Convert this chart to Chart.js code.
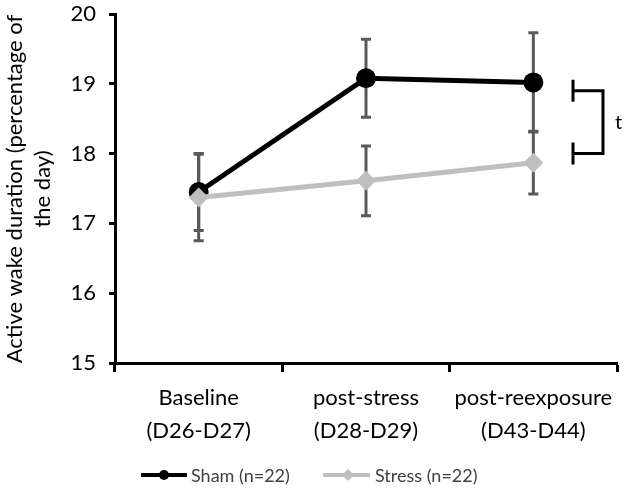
<!DOCTYPE html>
<html>
<head>
<meta charset="utf-8">
<script src="https://cdn.jsdelivr.net/npm/chart.js@4"></script>
<style>
html,body{margin:0;padding:0;background:#fff;}
#wrap{width:630px;height:490px;position:relative;}
</style>
</head>
<body>
<div id="wrap"><canvas id="c" width="630" height="490"></canvas></div>
<script>
const categories = [["Baseline","(D26-D27)"],["post-stress","(D28-D29)"],["post-reexposure","(D43-D44)"]];
const shamValues = [17.45, 19.08, 19.02];
const shamErrors = [0.55, 0.56, 0.71];
const stressValues = [17.37, 17.61, 17.87];
const stressErrors = [0.62, 0.5, 0.45];
const yTicks = [15, 16, 17, 18, 19, 20];
const seriesNames = ["Sham (n=22)", "Stress (n=22)"];
const yTitle = ["Active wake duration (percentage of", "the day)"];
const bracketRange = [18.0, 18.9];
const bracketLabel = "t";

const FONT = "Lato, 'Open Sans', sans-serif";
const ERR_COLOR = "#595959";
const SHAM_COLOR = "#000000";
const STRESS_COLOR = "#BFBFBF";

const errorPlugin = {
  id: 'errorbars',
  beforeDatasetsDraw(chart) {
    const ctx = chart.ctx, x = chart.scales.x, y = chart.scales.y;
    ctx.save();
    ctx.strokeStyle = ERR_COLOR;
    ctx.lineWidth = 3;
    const draw = (vals, errs) => {
      vals.forEach((v, i) => {
        const px = x.getPixelForValue(i);
        const top = y.getPixelForValue(v + errs[i]);
        const bot = y.getPixelForValue(v - errs[i]);
        ctx.beginPath();
        ctx.moveTo(px, top); ctx.lineTo(px, bot);
        ctx.moveTo(px - 5, top); ctx.lineTo(px + 5, top);
        ctx.moveTo(px - 5, bot); ctx.lineTo(px + 5, bot);
        ctx.stroke();
      });
    };
    draw(shamValues, shamErrors);
    draw(stressValues, stressErrors);
    ctx.restore();
  }
};

const decorPlugin = {
  id: 'decor',
  afterDraw(chart) {
    const ctx = chart.ctx, y = chart.scales.y;
    ctx.save();
    // bracket
    const yTop = y.getPixelForValue(bracketRange[1]);
    const yBot = y.getPixelForValue(bracketRange[0]);
    ctx.strokeStyle = '#000'; ctx.lineWidth = 3;
    ctx.beginPath();
    ctx.moveTo(573, yTop); ctx.lineTo(603, yTop); ctx.lineTo(603, yBot); ctx.lineTo(573, yBot);
    ctx.moveTo(573, yTop - 11); ctx.lineTo(573, yTop + 11);
    ctx.moveTo(573, yBot - 11); ctx.lineTo(573, yBot + 11);
    ctx.stroke();
    ctx.fillStyle = '#000';
    ctx.font = "20px " + FONT;
    ctx.textAlign = 'left'; ctx.textBaseline = 'middle';
    ctx.fillText(bracketLabel, 615, (yTop + yBot) / 2);
    // y title
    ctx.save();
    ctx.rotate(-Math.PI / 2);
    ctx.font = "22px " + FONT;
    ctx.fillStyle = '#000';
    ctx.textAlign = 'center'; ctx.textBaseline = 'middle';
    const cy = 189;
    ctx.fillText(yTitle[0], -cy, 15);
    ctx.fillText(yTitle[1], -cy, 43);
    ctx.restore();
    // legend
    const ly = 475;
    ctx.lineWidth = 4;
    ctx.strokeStyle = SHAM_COLOR;
    ctx.beginPath(); ctx.moveTo(141, ly); ctx.lineTo(187, ly); ctx.stroke();
    ctx.fillStyle = SHAM_COLOR;
    ctx.beginPath(); ctx.arc(164, ly, 5, 0, Math.PI * 2); ctx.fill();
    ctx.strokeStyle = STRESS_COLOR;
    ctx.beginPath(); ctx.moveTo(323, ly); ctx.lineTo(370, ly); ctx.stroke();
    ctx.fillStyle = STRESS_COLOR;
    ctx.beginPath();
    ctx.moveTo(348 - 6, ly); ctx.lineTo(348, ly - 6); ctx.lineTo(348 + 6, ly); ctx.lineTo(348, ly + 6);
    ctx.closePath(); ctx.fill();
    ctx.fillStyle = '#404040';
    ctx.font = "18px " + FONT;
    ctx.textAlign = 'left'; ctx.textBaseline = 'middle';
    ctx.fillText(seriesNames[0], 191, ly + 1);
    ctx.fillText(seriesNames[1], 375, ly + 1);
    ctx.restore();
  }
};

new Chart(document.getElementById('c'), {
  type: 'line',
  data: {
    labels: categories,
    datasets: [
      {
        label: seriesNames[0], data: shamValues, order: 2,
        borderColor: SHAM_COLOR, borderWidth: 5, backgroundColor: SHAM_COLOR,
        pointStyle: 'circle', pointRadius: 10, pointBackgroundColor: SHAM_COLOR,
        pointBorderColor: SHAM_COLOR, pointBorderWidth: 0, tension: 0
      },
      {
        label: seriesNames[1], data: stressValues, order: 1,
        borderColor: STRESS_COLOR, borderWidth: 5, backgroundColor: STRESS_COLOR,
        pointStyle: 'rectRot', pointRadius: 10, pointBackgroundColor: STRESS_COLOR,
        pointBorderColor: STRESS_COLOR, pointBorderWidth: 0, tension: 0
      }
    ]
  },
  options: {
    responsive: false,
    animation: false,
    devicePixelRatio: 1,
    layout: { padding: { left: 0, top: 14, right: 13, bottom: 0 } },
    plugins: { legend: { display: false }, tooltip: { enabled: false } },
    scales: {
      x: {
        type: 'category',
        offset: true,
        grid: { offset: true, drawOnChartArea: false, drawTicks: true, tickLength: 9, tickWidth: 3, tickColor: '#000' },
        border: { display: true, color: '#000', width: 3 },
        ticks: { color: '#000', font: { family: FONT, size: 22, lineHeight: 1.5 }, padding: 9, maxRotation: 0, autoSkip: false },
        afterFit(s) { s.height = 127; s.paddingLeft = 0; s.paddingRight = 0; }
      },
      y: {
        min: 15, max: 20,
        afterBuildTicks(s) { s.ticks = yTicks.map(v => ({ value: v })); },
        grid: { drawOnChartArea: false, drawTicks: true, tickLength: 6, tickWidth: 3, tickColor: '#000' },
        border: { display: true, color: '#000', width: 3 },
        ticks: { color: '#000', font: { family: FONT, size: 22 }, padding: 13 },
        afterFit(s) { s.width = 115; s.paddingTop = 0; s.paddingBottom = 0; }
      }
    }
  },
  plugins: [errorPlugin, decorPlugin]
});
</script>
</body>
</html>
